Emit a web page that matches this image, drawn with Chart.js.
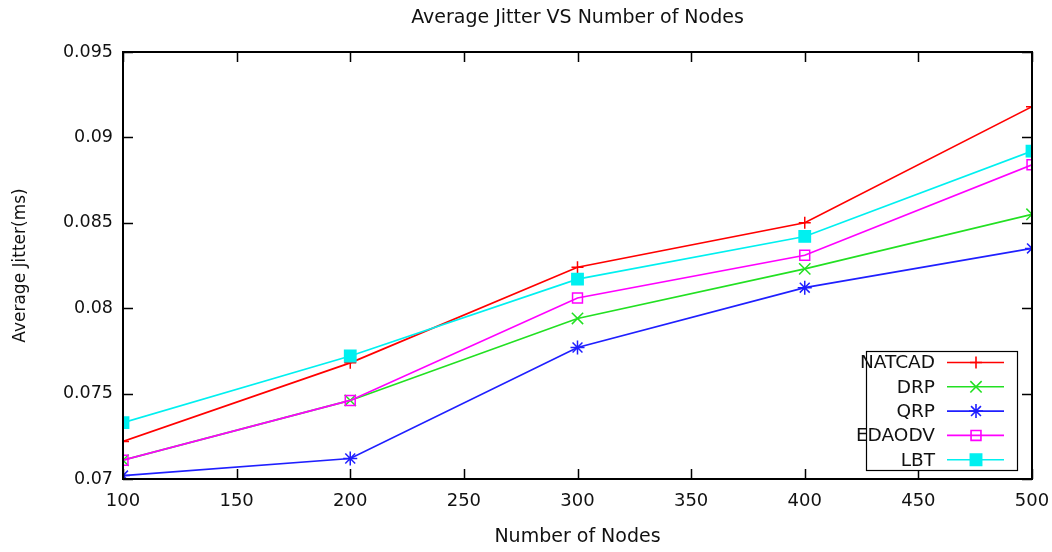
<!DOCTYPE html>
<html>
<head>
<meta charset="utf-8">
<script src="https://cdn.jsdelivr.net/npm/chart.js@4"></script>
<style>
  html, body { margin: 0; padding: 0; background: #fff; }
  #wrap { width: 1052px; height: 552px; }
</style>
</head>
<body>
<div id="wrap"><canvas id="c" width="1052" height="552"></canvas></div>
<script>
// Average jitter (ms) by number of nodes.
const nodes  = [100, 200, 300, 400, 500];
const natcad = [0.0722, 0.0768, 0.0824, 0.0850, 0.0918];
const drp    = [0.0711, 0.0746, 0.0794, 0.0823, 0.0855];
const qrp    = [0.0702, 0.0712, 0.0777, 0.0812, 0.0835];
const edaodv = [0.0711, 0.0746, 0.0806, 0.0831, 0.0884];
const lbt    = [0.0733, 0.0772, 0.0817, 0.0842, 0.0892];
const chartTitle = 'Average Jitter VS Number of Nodes';

const FONT = "'DejaVu Sans', Verdana, sans-serif";
const INK = '#111';
const pts = arr => nodes.map((n, i) => ({ x: n, y: arr[i] }));

function series(label, data, color, style, radius, fill, order) {
  return {
    label, data: pts(data), order,
    borderColor: color, borderWidth: 1.7,
    pointStyle: style, pointRadius: radius, pointHoverRadius: radius,
    pointBorderColor: color, pointBorderWidth: 1.5,
    pointBackgroundColor: fill ? color : 'rgba(0,0,0,0)',
    backgroundColor: fill ? color : 'rgba(0,0,0,0)',
    tension: 0, fill: false,
  };
}

// gnuplot look: closed frame with inward ticks on all four sides,
// title centred over the plot area rather than the canvas.
const frame = {
  id: 'frame',
  afterDatasetsDraw(chart) {
    const { ctx, chartArea: a, scales: { x, y } } = chart;
    const len = 10;
    ctx.save();
    ctx.strokeStyle = '#000';
    ctx.lineWidth = 1.5;
    ctx.beginPath();
    x.ticks.forEach(t => {
      const px = Math.round(x.getPixelForValue(t.value)) + 0.5;
      ctx.moveTo(px, a.bottom); ctx.lineTo(px, a.bottom - len);
      ctx.moveTo(px, a.top); ctx.lineTo(px, a.top + len);
    });
    y.ticks.forEach(t => {
      const py = Math.round(y.getPixelForValue(t.value)) + 0.5;
      ctx.moveTo(a.left, py); ctx.lineTo(a.left + len, py);
      ctx.moveTo(a.right, py); ctx.lineTo(a.right - len, py);
    });
    ctx.stroke();
    ctx.lineWidth = 2;
    ctx.strokeRect(a.left, a.top, a.right - a.left, a.bottom - a.top);

    ctx.fillStyle = INK;
    ctx.font = '19px ' + FONT;
    ctx.textAlign = 'center';
    ctx.textBaseline = 'middle';
    ctx.fillText(chartTitle, (a.left + a.right) / 2, 18);
    ctx.restore();
  },
};

// Boxed key in the lower right corner, labels right-aligned left of the samples.
const key = {
  id: 'key',
  afterDraw(chart) {
    const { ctx, chartArea: a } = chart;
    const bw = 151, bh = 119;
    const bx = a.right - 15 - bw, by = a.bottom - 9 - bh;
    ctx.save();
    ctx.fillStyle = '#fff';
    ctx.fillRect(bx, by, bw, bh);
    ctx.strokeStyle = '#000';
    ctx.lineWidth = 1.2;
    ctx.strokeRect(bx + 0.5, by + 0.5, bw, bh);
    ctx.font = '18.5px ' + FONT;
    ctx.textAlign = 'right';
    ctx.textBaseline = 'middle';
    chart.data.datasets.forEach((ds, i) => {
      const ry = by + 11.5 + i * 24.3;
      ctx.fillStyle = INK;
      ctx.fillText(ds.label, bx + 69, ry + 1);
      ctx.strokeStyle = ds.borderColor;
      ctx.lineWidth = 1.6;
      ctx.beginPath();
      ctx.moveTo(bx + 81, ry); ctx.lineTo(bx + 138, ry);
      ctx.stroke();
      ctx.fillStyle = ds.pointBackgroundColor;
      Chart.helpers.drawPoint(ctx, {
        pointStyle: ds.pointStyle, radius: ds.pointRadius, rotation: 0, borderWidth: 1.5,
      }, bx + 110, ry);
    });
    ctx.restore();
  },
};

new Chart(document.getElementById('c'), {
  type: 'line',
  data: {
    datasets: [
      series('NATCAD', natcad, '#ff0000', 'cross', 6, false, 5),
      series('DRP', drp, '#22e022', 'crossRot', 8, false, 4),
      series('QRP', qrp, '#1f1fff', 'star', 7, false, 3),
      series('EDAODV', edaodv, '#ff00ff', 'rect', 7, false, 2),
      series('LBT', lbt, '#00f0f0', 'rect', 8, true, 1),
    ],
  },
  options: {
    responsive: false,
    animation: false,
    events: [],
    layout: { padding: { left: 0, right: 20, top: 52, bottom: 0 } },
    plugins: {
      legend: { display: false },
      tooltip: { enabled: false },
      title: { display: false },
    },
    scales: {
      x: {
        type: 'linear', min: 100, max: 500,
        grid: { display: false, drawTicks: false },
        border: { display: false },
        ticks: { stepSize: 50, color: INK, padding: 12, font: { family: FONT, size: 18 } },
        title: {
          display: true, text: 'Number of Nodes', color: INK,
          font: { family: FONT, size: 19 }, padding: { top: 10, bottom: 3.6 },
        },
        afterFit: s => { s.height = 73; s.paddingLeft = 0; s.paddingRight = 0; },
      },
      y: {
        type: 'linear', min: 0.07, max: 0.095,
        grid: { display: false, drawTicks: false },
        border: { display: false },
        ticks: {
          stepSize: 0.005, color: INK, padding: 10, font: { family: FONT, size: 17.5 },
          callback: v => String(Number(v.toFixed(3))),
        },
        title: {
          display: true, text: 'Average Jitter(ms)', color: INK,
          font: { family: FONT, size: 17 }, padding: { top: 10, bottom: 0 },
        },
        afterFit: s => { s.width = 123; s.paddingTop = 0; s.paddingBottom = 0; },
      },
    },
  },
  plugins: [frame, key],
});
</script>
</body>
</html>
